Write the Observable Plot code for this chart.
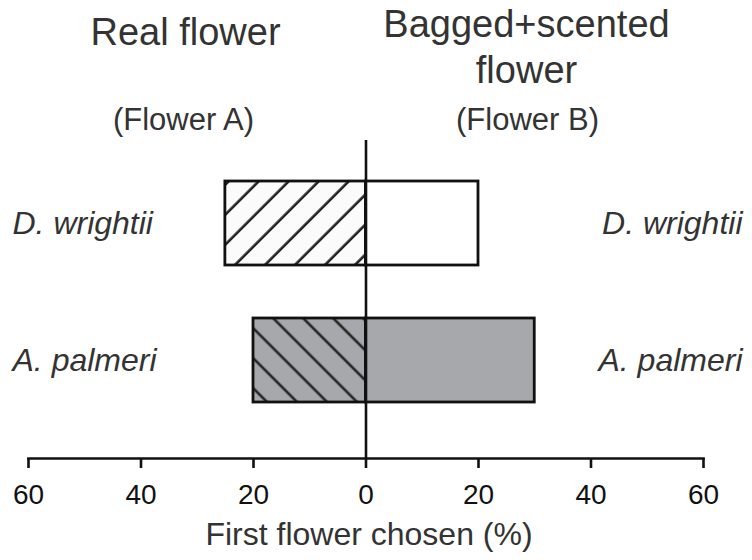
<!DOCTYPE html>
<html>
<head>
<meta charset="utf-8">
<script src="https://cdn.jsdelivr.net/npm/d3@7"></script>
<script src="https://cdn.jsdelivr.net/npm/@observablehq/plot@0.6"></script>
<style>
  html, body { margin: 0; padding: 0; background: #fff; }
  #chart { width: 752px; height: 560px; }
</style>
</head>
<body>
<div id="chart"></div>
<script>
// ---- data ----
const species = ["D. wrightii", "A. palmeri"];
const realFlower = [25, 20];        // % first choice: real flower (Flower A)
const baggedFlower = [20, 30];      // % first choice: bagged+scented flower (Flower B)
const xTicks = [-60, -40, -20, 0, 20, 40, 60];
const leftHeader = "Real flower";
const rightHeader = "Bagged+scented\nflower";
const leftSub = "(Flower A)";
const rightSub = "(Flower B)";
const xLabel = "First flower chosen (%)";

const rows = species.map((s, i) => ({species: s, real: realFlower[i], bagged: baggedFlower[i]}));
const leftFill = {"D. wrightii": "url(#hatchFwd)", "A. palmeri": "url(#hatchBack)"};
const rightFill = {"D. wrightii": "#ffffff", "A. palmeri": "#a7a8ab"};

const font = "'Liberation Sans', Arial, Helvetica, sans-serif";

const svg = Plot.plot({
  width: 752,
  height: 560,
  marginLeft: 28,
  marginRight: 49,
  marginTop: 140,
  marginBottom: 102,
  style: {fontFamily: font, background: "#fff", overflow: "visible"},
  x: {domain: [-60, 60], axis: null},
  y: {domain: species, range: [153, 429], paddingInner: 0.387, paddingOuter: 0.2, axis: null},
  marks: [
    Plot.barX(rows, {y: "species", x1: 0, x2: d => -d.real, fill: d => leftFill[d.species], stroke: "#111", strokeWidth: 2.8}),
    Plot.barX(rows, {y: "species", x1: 0, x2: d => d.bagged, fill: d => rightFill[d.species], stroke: "#111", strokeWidth: 2.8}),
    Plot.ruleX([0], {stroke: "#111", strokeWidth: 2.6}),
    Plot.frame({anchor: "bottom", stroke: "#111", strokeWidth: 2.6}),
    Plot.axisX({ticks: xTicks, tickFormat: d => Math.abs(d), tickSize: 10, tickPadding: 16,
      fontSize: 28, stroke: "#111", strokeWidth: 2.6, fill: "#111", label: null}),
    Plot.text([xLabel], {frameAnchor: "bottom", dx: 3, dy: 76, fontSize: 32, fill: "#333", lineAnchor: "middle"}),
    // headers
    Plot.text([leftHeader], {frameAnchor: "top", dx: -180.5, dy: -108, fontSize: 38, fill: "#333", lineAnchor: "middle"}),
    Plot.text([rightHeader], {frameAnchor: "top", dx: 160.5, dy: -95, fontSize: 38, lineHeight: 1.2, fill: "#333", lineAnchor: "middle"}),
    Plot.text([leftSub], {frameAnchor: "top", dx: -182.5, dy: -20, fontSize: 31, fill: "#333", lineAnchor: "middle"}),
    Plot.text([rightSub], {frameAnchor: "top", dx: 161.5, dy: -20, fontSize: 31, fill: "#333", lineAnchor: "middle"}),
    // species labels
    Plot.text(species, {y: d => d, text: d => d, frameAnchor: "left", textAnchor: "start", dx: -16,
      fontSize: 32, fontStyle: "italic", fill: "#333"}),
    Plot.text(species, {y: d => d, text: d => d, frameAnchor: "right", textAnchor: "end", dx: 39,
      fontSize: 32, fontStyle: "italic", fill: "#333"})
  ]
});

// hatch patterns
const defs = d3.select(svg).insert("defs", ":first-child");
function hatch(id, angle, bg, offset) {
  const w = 21.21;
  const p = defs.append("pattern")
    .attr("id", id)
    .attr("patternUnits", "userSpaceOnUse")
    .attr("width", w).attr("height", w)
    .attr("patternTransform", `rotate(${angle})`);
  p.append("rect").attr("width", w).attr("height", w).attr("fill", bg);
  p.append("line").attr("x1", offset).attr("x2", offset).attr("y1", -1).attr("y2", w + 1)
    .attr("stroke", "#222").attr("stroke-width", 2.6);
}
hatch("hatchFwd", 45, "#fbfbfb", 14.14);
hatch("hatchBack", -45, "#a7a8ab", 10.6);

document.getElementById("chart").appendChild(svg);
</script>
</body>
</html>
